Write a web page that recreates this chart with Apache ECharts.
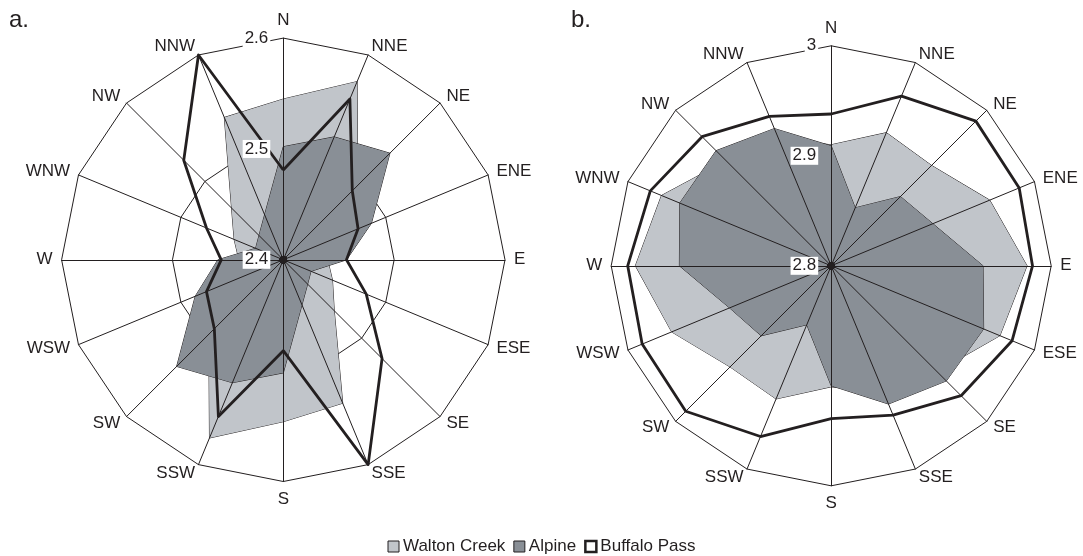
<!DOCTYPE html>
<html>
<head>
<meta charset="utf-8">
<script src="https://cdn.jsdelivr.net/npm/echarts@6/dist/echarts.min.js"></script>
<style>
html,body{margin:0;padding:0;background:#fff;}
#chart{width:1083px;height:556px;}
</style>
</head>
<body>
<div id="chart"></div>
<script>
// ---- data ----
const directions = ['N','NNE','NE','ENE','E','ESE','SE','SSE','S','SSW','SW','WSW','W','WNW','NW','NNW'];
const seriesNames = ['Walton Creek','Alpine','Buffalo Pass'];
const panelTitles = ['a.','b.'];

// panel a (scale 2.4 - 2.6)
const scaleA = [2.4, 2.6];
const waltonA  = [2.545, 2.574, 2.495, 2.460, 2.440, 2.448, 2.465, 2.540, 2.546, 2.574, 2.495, 2.460, 2.440, 2.448, 2.466, 2.539];
const alpineA  = [2.502, 2.520, 2.536, 2.486, 2.457, 2.427, 2.431, 2.444, 2.502, 2.520, 2.536, 2.486, 2.459, 2.427, 2.431, 2.444];
const buffaloA = [2.481, 2.557, 2.488, 2.473, 2.457, 2.481, 2.526, 2.600, 2.482, 2.553, 2.488, 2.475, 2.456, 2.475, 2.527, 2.600];

// panel b (scale 2.8 - 3.0)
const scaleB = [2.8, 3.0];
const waltonB  = [2.910, 2.931, 2.929, 2.956, 2.978, 2.966, 2.936, 2.925, 2.910, 2.931, 2.930, 2.957, 2.978, 2.967, 2.935, 2.925];
const alpineB  = [2.909, 2.857, 2.889, 2.900, 2.938, 2.950, 2.948, 2.936, 2.909, 2.858, 2.890, 2.900, 2.938, 2.949, 2.948, 2.935];
const buffaloB = [2.938, 2.967, 2.986, 2.985, 2.983, 2.978, 2.967, 2.947, 2.939, 2.968, 2.987, 2.986, 2.985, 2.978, 2.966, 2.947];

// ---- styling ----
const INK = '#231F20';
const LIGHT = '#C1C5CA';
const DARK = '#898F96';
const FONT = '"Liberation Sans", Arial, sans-serif';

// ECharts radar places indicators counter-clockwise; reorder so compass runs clockwise
const order = directions.map((d, i) => (16 - i) % 16);
const reorder = arr => order.map(i => arr[i]);

function baseRadar(center, radius, scale) {
  return {
    center: center, radius: radius, shape: 'polygon', startAngle: 90, splitNumber: 2, z: 0,
    indicator: order.map(i => ({ name: directions[i], min: scale[0], max: scale[1] })),
    axisName: { color: INK, fontSize: 17, fontFamily: FONT },
    nameGap: 9,
    axisLine: { show: false },
    axisTick: { show: false },
    axisLabel: { show: false },
    splitLine: { lineStyle: { color: INK, width: 1 } },
    splitArea: { show: false }
  };
}
function overlayRadar(center, radius, scale) {
  return {
    center: center, radius: radius, shape: 'polygon', startAngle: 90, splitNumber: 2, z: 3,
    indicator: order.map((i, k) => ({
      name: '', min: scale[0], max: scale[1],
      axisLabel: k === 0 ? {
        show: true, color: INK, fontSize: 17, fontFamily: FONT, margin: 13,
        backgroundColor: '#fff', padding: [1, 2, 0, 2],
        formatter: v => String(Math.round(v * 10) / 10)
      } : { show: false }
    })),
    axisName: { show: false },
    axisLine: { show: true, lineStyle: { color: INK, width: 1 }, symbol: ['circle', 'none'], symbolSize: [7, 7] },
    axisTick: { show: false },
    splitLine: { show: false },
    splitArea: { show: false }
  };
}
function radarSeries(radarIndex, walton, alpine, buffalo) {
  return {
    type: 'radar', radarIndex: radarIndex, symbol: 'none', z: 2,
    data: [
      { name: seriesNames[0], value: reorder(walton),
        itemStyle: { color: LIGHT }, lineStyle: { color: INK, width: 1 }, areaStyle: { color: LIGHT, opacity: 1 } },
      { name: seriesNames[1], value: reorder(alpine),
        itemStyle: { color: DARK }, lineStyle: { color: INK, width: 1 }, areaStyle: { color: DARK, opacity: 1 } },
      { name: seriesNames[2], value: reorder(buffalo),
        itemStyle: { color: INK }, lineStyle: { color: INK, width: 2.8 } }
    ]
  };
}

const centerA = [283.3, 259.8], radiusA = 221.7;
const centerB = [831.2, 265.8], radiusB = 220;

const chart = echarts.init(document.getElementById('chart'), null, { renderer: 'canvas' });
chart.setOption({
  animation: false,
  backgroundColor: '#fff',
  title: [
    { text: panelTitles[0], left: 4, top: 3, textStyle: { fontSize: 24, fontWeight: 'normal', color: INK, fontFamily: FONT } },
    { text: panelTitles[1], left: 566, top: 3, textStyle: { fontSize: 24, fontWeight: 'normal', color: INK, fontFamily: FONT } }
  ],
  legend: {
    top: 533, left: 'center', icon: 'rect', itemWidth: 11, itemHeight: 11, itemGap: 8,
    textStyle: { color: INK, fontSize: 17, fontFamily: FONT, padding: [0, 0, 0, -1] },
    data: [
      { name: seriesNames[0], itemStyle: { color: LIGHT, borderColor: INK, borderWidth: 1 } },
      { name: seriesNames[1], itemStyle: { color: DARK, borderColor: INK, borderWidth: 1 } },
      { name: seriesNames[2], itemStyle: { color: '#fff', borderColor: INK, borderWidth: 2.5 } }
    ]
  },
  radar: [
    baseRadar(centerA, radiusA, scaleA),
    overlayRadar(centerA, radiusA, scaleA),
    baseRadar(centerB, radiusB, scaleB),
    overlayRadar(centerB, radiusB, scaleB)
  ],
  series: [
    radarSeries(0, waltonA, alpineA, buffaloA),
    radarSeries(2, waltonB, alpineB, buffaloB)
  ]
});
</script>
</body>
</html>
